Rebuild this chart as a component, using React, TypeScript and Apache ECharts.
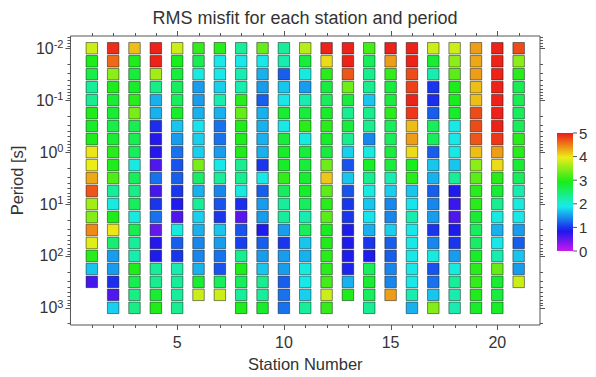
import React, { useEffect, useRef } from "react";
import * as echarts from "echarts";

// Station numbers along the x axis
const stations = [1, 2, 3, 4, 5, 6, 7, 8, 9, 10, 11, 12, 13, 14, 15, 16, 17, 18, 19, 20, 21];

// Periods [s] of the rows, four per decade
const periods = [
  0.01, 0.0178, 0.0316, 0.0562, 0.1, 0.178, 0.316, 0.562, 1, 1.78, 3.16, 5.62,
  10, 17.8, 31.6, 56.2, 100, 178, 316, 562, 1000,
];

// RMS misfit per station, listed from the shortest period down
const st01 = [3.8, 2.95, 2.7, 2.3, 2.35, 2.95, 2.85, 2.95, 4.0, 3.95, 4.3, 4.7, 3.6, 3.45, 4.45, 3.9, 3.0, 1.7, 0.65];
const st02 = [4.9, 4.6, 3.5, 2.95, 2.8, 2.8, 2.7, 2.8, 3.0, 2.95, 3.2, 2.3, 1.95, 2.95, 4.0, 2.5, 1.5, 1.5, 0.95, 0.6, 1.75];
const st03 = [4.2, 2.95, 2.75, 2.85, 3.0, 3.4, 2.65, 2.65, 2.6, 1.95, 2.6, 2.4, 2.6, 1.95, 2.65, 2.3, 2.2, 2.95, 2.65, 2.4, 2.4];
const st04 = [4.95, 4.95, 3.6, 2.4, 1.6, 1.6, 0.95, 0.8, 0.8, 0.6, 1.3, 0.65, 1.0, 1.3, 0.5, 0.8, 0.85, 2.3, 2.35, 2.8, 2.95];
const st05 = [3.8, 2.9, 2.75, 2.6, 2.6, 2.85, 1.7, 1.5, 1.3, 1.15, 1.2, 1.0, 0.85, 0.6, 1.95, 1.2, 1.0, 2.2, 2.3, 2.3, 2.35];
const st06 = [3.05, 2.65, 1.95, 1.5, 1.5, 1.6, 1.85, 1.75, 1.75, 3.4, 2.55, 1.6, 2.3, 1.75, 1.6, 1.4, 1.4, 1.6, 2.8, 3.8];
const st07 = [3.0, 1.9, 1.9, 1.75, 2.2, 1.6, 1.3, 1.3, 1.5, 1.9, 2.3, 1.4, 1.15, 1.0, 1.7, 1.5, 1.3, 1.15, 2.6, 3.8];
const st08 = [2.3, 1.9, 2.2, 2.2, 3.0, 3.3, 2.95, 2.95, 2.95, 2.35, 2.35, 1.95, 0.95, 0.55, 1.15, 1.05, 2.35, 2.95, 2.6, 2.3, 2.95];
const st09 = [3.3, 1.9, 1.6, 1.5, 1.2, 1.6, 1.6, 1.6, 1.6, 1.0, 1.9, 1.2, 1.5, 1.5, 0.85, 1.2, 1.5, 1.7, 2.35, 2.3, 2.85];
const st10 = [2.3, 2.2, 1.2, 1.7, 1.9, 2.8, 1.9, 2.75, 2.85, 2.85, 3.05, 2.6, 2.3, 2.3, 1.5, 1.0, 1.5, 1.5, 1.2, 1.3, 1.3];
const st11 = [3.7, 2.75, 1.95, 1.5, 2.2, 2.75, 3.0, 1.95, 2.75, 2.75, 2.8, 2.85, 2.6, 2.2, 2.6, 1.7, 1.6, 1.95, 1.9, 1.75, 2.3];
const st12 = [4.95, 4.05, 3.0, 2.75, 2.6, 2.85, 3.0, 2.85, 2.75, 3.35, 4.15, 3.25, 3.0, 3.25, 2.9, 2.95, 3.0, 3.0, 3.15, 3.8, 3.05];
const st13 = [4.95, 4.95, 4.7, 3.35, 2.75, 2.35, 2.75, 2.35, 1.75, 1.15, 1.7, 1.15, 1.0, 1.0, 0.85, 0.85, 0.85, 0.9, 1.6, 2.95];
const st14 = [3.15, 2.6, 2.35, 2.35, 1.7, 2.35, 2.35, 1.4, 1.95, 2.85, 2.35, 1.95, 1.7, 1.85, 1.6, 1.0, 0.85, 2.6, 2.8, 2.6, 2.35];
const st15 = [4.95, 4.35, 3.05, 2.75, 2.75, 3.0, 2.6, 2.6, 2.75, 2.75, 2.2, 1.75, 1.4, 1.4, 1.75, 1.2, 1.2, 1.4, 1.4, 4.35];
const st16 = [4.95, 4.95, 4.75, 4.8, 4.95, 4.85, 4.2, 4.35, 4.05, 2.9, 3.0, 1.7, 1.85, 2.2, 1.9, 1.9, 1.9, 1.9, 1.9, 2.2, 1.6];
const st17 = [3.8, 2.8, 2.2, 1.0, 0.95, 1.2, 2.6, 2.6, 1.2, 1.7, 1.6, 1.2, 1.4, 1.5, 1.0, 1.4, 1.95, 1.15, 1.3, 1.7, 3.45];
const st18 = [3.8, 3.5, 3.25, 2.95, 2.9, 2.85, 1.9, 1.9, 1.9, 1.7, 2.3, 0.85, 0.7, 0.6, 0.85, 1.0, 1.5, 1.95, 2.3, 2.2, 2.2];
const st19 = [4.35, 4.3, 4.35, 4.2, 4.2, 4.75, 4.75, 4.7, 4.2, 3.5, 3.25, 3.0, 3.0, 2.8, 2.6, 2.55, 2.85, 3.0, 3.05, 2.95, 2.85];
const st20 = [4.95, 4.95, 4.95, 4.95, 4.95, 4.95, 4.95, 4.85, 4.35, 4.05, 3.0, 2.8, 2.35, 1.95, 1.6, 1.9, 2.2, 3.3, 2.8, 2.75, 2.85];
const st21 = [4.75, 3.5, 3.0, 2.65, 2.65, 2.6, 2.6, 3.0, 3.0, 2.8, 2.6, 2.2, 1.95, 1.9, 1.5, 1.2, 1.7, 1.5, 3.8];

const misfitByStation = [
  st01, st02, st03, st04, st05, st06, st07, st08, st09, st10, st11,
  st12, st13, st14, st15, st16, st17, st18, st19, st20, st21,
];

// Colour bar tick labels
const colorbarTicks = [0, 1, 2, 3, 4, 5];

const FONT = "'Liberation Sans', Arial, Helvetica, sans-serif";
const TEXT = "#333";
const AXIS = "#555";

// Axis extents
const X_MIN = 0;
const X_MAX = 22;
const P_MIN = 0.0058;
const P_MAX = 2140;

// Grid box in pixels
const GRID = { left: 67, top: 36, width: 473, height: 295 };

// Rainbow colour scale: violet at 0 through blue, cyan, green, yellow to red at 5
function hsvHex(h: number, s: number, v: number): string {
  const f = (n: number) => {
    const k = (n + h / 60) % 6;
    return v - v * s * Math.max(0, Math.min(k, 4 - k, 1));
  };
  const hex = (x: number) => Math.round(x * 255).toString(16).padStart(2, "0");
  return "#" + hex(f(5)) + hex(f(3)) + hex(f(1));
}
const CMAP_STEPS = 24;
const cmap: string[] = [];
for (let i = 0; i <= CMAP_STEPS; i++) {
  const t = i / CMAP_STEPS; // 0 -> value 0, 1 -> value 5
  cmap.push(hsvHex(290 * (1 - t), 0.9, 0.93));
}

// Log minor/major tick positions for the period axis
const periodTicks: number[][] = [];
for (let k = -3; k <= 3; k++) {
  for (let m = 1; m <= 9; m++) {
    const p = m * Math.pow(10, k);
    if (p >= P_MIN && p <= P_MAX) periodTicks.push([1, p, m === 1 ? 1 : 0]);
  }
}

export default function App() {
  const ref = useRef<HTMLDivElement>(null);

  useEffect(() => {
    if (!ref.current) return;
    const chart = echarts.init(ref.current, null, { renderer: "svg" });

    const cells: number[][] = [];
    misfitByStation.forEach((rows, i) => {
      rows.forEach((v, r) => cells.push([stations[i], periods[r], v]));
    });

    // Colour bar geometry
    const cbX = 557;
    const cbTop = 133;
    const cbW = 16;
    const cbH = 118;
    const gradStops = cmap
      .map((c, i) => ({ offset: 1 - i / CMAP_STEPS, color: c }))
      .reverse();

    const colorbar: any[] = [
      {
        type: "rect",
        shape: { x: cbX, y: cbTop, width: cbW, height: cbH },
        style: {
          fill: new echarts.graphic.LinearGradient(0, 0, 0, 1, gradStops),
        },
        silent: true,
      },
    ];
    colorbarTicks.forEach((t) => {
      const y = cbTop + cbH * (1 - t / 5);
      colorbar.push({
        type: "line",
        shape: { x1: cbX + cbW, y1: y, x2: cbX + cbW + 4, y2: y },
        style: { stroke: AXIS, lineWidth: 1 },
        silent: true,
      });
      colorbar.push({
        type: "text",
        x: cbX + cbW + 6,
        y,
        style: {
          text: String(t),
          fill: TEXT,
          font: `15px ${FONT}`,
          align: "left",
          verticalAlign: "middle",
          textAlign: "left",
          textVerticalAlign: "middle",
        },
        silent: true,
      });
    });

    chart.setOption({
      animation: false,
      backgroundColor: "#fff",
      graphic: [
        {
          type: "text",
          x: 305,
          y: 18,
          style: {
            text: "RMS misfit for each station and period",
            fill: TEXT,
            font: `18px ${FONT}`,
            align: "center",
            verticalAlign: "middle",
            textAlign: "center",
            textVerticalAlign: "middle",
          },
          silent: true,
        },
        ...colorbar,
      ],
      grid: {
        ...GRID,
        show: true,
        borderColor: AXIS,
        borderWidth: 1,
        backgroundColor: "transparent",
      },
      xAxis: {
        type: "value",
        min: X_MIN,
        max: X_MAX,
        interval: 1,
        axisLine: { show: false },
        axisTick: { show: false },
        splitLine: { show: false },
        axisLabel: {
          margin: 9,
          color: TEXT,
          fontSize: 16,
          fontFamily: FONT,
          formatter: (v: number) =>
            v > X_MIN && v < X_MAX && v % 5 === 0 ? String(v) : "",
        },
        name: "Station Number",
        nameLocation: "middle",
        nameGap: 30,
        nameTextStyle: { color: TEXT, fontSize: 16.5, fontFamily: FONT },
      },
      yAxis: {
        type: "log",
        inverse: true,
        min: P_MIN,
        max: P_MAX,
        axisLine: { show: false },
        axisTick: { show: false },
        splitLine: { show: false },
        axisLabel: {
          margin: 7,
          formatter: (v: number) => {
            const e = Math.log10(v);
            const r = Math.round(e);
            if (Math.abs(e - r) > 1e-6) return "";
            return `{b|10}{s|${r}}`;
          },
          rich: {
            b: { fontSize: 16, color: TEXT, fontFamily: FONT, lineHeight: 19 },
            s: { fontSize: 11, color: TEXT, fontFamily: FONT, verticalAlign: "top", lineHeight: 12 },
          },
        },
        name: "Period [s]",
        nameLocation: "middle",
        nameGap: 42,
        nameRotate: 90,
        nameTextStyle: { color: TEXT, fontSize: 16.5, fontFamily: FONT },
      },
      visualMap: {
        type: "continuous",
        show: false,
        min: 0,
        max: 5,
        dimension: 2,
        seriesIndex: 0,
        inRange: { color: cmap },
      },
      series: [
        {
          type: "scatter",
          data: cells,
          symbol: "rect",
          symbolSize: 11.5,
          itemStyle: { borderColor: "rgba(0,0,0,0.45)", borderWidth: 1, opacity: 1 },
          silent: true,
        },
        {
          // station ticks on the bottom and top frame edges
          type: "custom",
          clip: false,
          silent: true,
          data: stations.map((s) => [s, 1]),
          renderItem: (params: any, api: any) => {
            const cs = params.coordSys;
            const s = api.value(0);
            const x = Math.round(api.coord([s, 1])[0]) + 0.5;
            const len = s % 5 === 0 ? 5 : 3;
            const style = { stroke: AXIS, lineWidth: 1 };
            return {
              type: "group",
              children: [
                { type: "line", shape: { x1: x, y1: cs.y + cs.height, x2: x, y2: cs.y + cs.height + len }, style },
                { type: "line", shape: { x1: x, y1: cs.y, x2: x, y2: cs.y - len }, style },
              ],
            };
          },
        },
        {
          // logarithmic period ticks on the left and right frame edges
          type: "custom",
          clip: false,
          silent: true,
          data: periodTicks,
          renderItem: (params: any, api: any) => {
            const cs = params.coordSys;
            const p = api.value(1);
            const y = Math.round(api.coord([1, p])[1]) + 0.5;
            const len = api.value(2) === 1 ? 5 : 3;
            const style = { stroke: AXIS, lineWidth: 1 };
            return {
              type: "group",
              children: [
                { type: "line", shape: { x1: cs.x, y1: y, x2: cs.x - len, y2: y }, style },
                { type: "line", shape: { x1: cs.x + cs.width, y1: y, x2: cs.x + cs.width + len, y2: y }, style },
              ],
            };
          },
        },
      ],
    });

    return () => chart.dispose();
  }, []);

  return (
    <div
      ref={ref}
      style={{ position: "absolute", left: 0, top: 0, width: 596, height: 377 }}
    />
  );
}
